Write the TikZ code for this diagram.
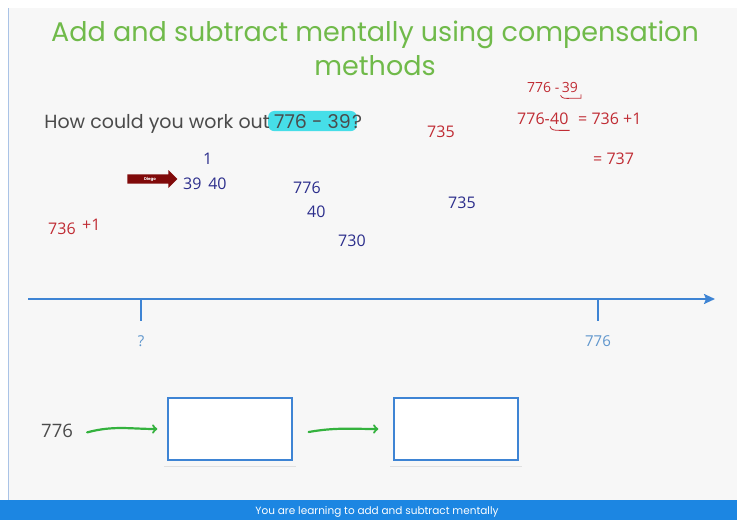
\documentclass[tikz,border=0pt]{standalone}
\usepackage{fontspec}
\setmainfont{Poppins}
\newfontfamily\handfont{Open Sans}
\usetikzlibrary{arrows,arrows.meta,shapes.arrows}

\definecolor{slidebg}{RGB}{247,247,247}
\definecolor{framecol}{RGB}{170,195,230}
\definecolor{titlegreen}{RGB}{112,186,74}
\definecolor{asktext}{RGB}{75,75,75}
\definecolor{marker}{RGB}{70,222,232}
\definecolor{penred}{RGB}{192,44,52}
\definecolor{pennavy}{RGB}{44,46,140}
\definecolor{linesblue}{RGB}{62,132,212}
\definecolor{labelblue}{RGB}{95,150,205}
\definecolor{barblue}{RGB}{28,134,226}
\definecolor{diegored}{RGB}{128,10,10}
\definecolor{arrowgreen}{RGB}{52,178,62}

\begin{document}
\begin{tikzpicture}[x=1pt, y=-1pt,
  heading/.style={text=titlegreen, font=\fontsize{27}{34}\selectfont, align=center, inner sep=0pt},
  ask/.style={text=asktext, font=\fontsize{19}{20}\selectfont, inner sep=0pt, anchor=base west},
  redpen/.style={text=penred, font=\handfont\fontsize{16}{16}\selectfont, inner sep=0pt, anchor=base west},
  navypen/.style={text=pennavy, font=\handfont\fontsize{16}{16}\selectfont, inner sep=0pt, anchor=base west},
  numline/.style={draw=linesblue, line width=2pt},
  ticklabel/.style={text=labelblue, font=\handfont\fontsize{15}{15}\selectfont},
  answerbox/.style={draw=linesblue, line width=1.3pt, fill=white, minimum width=124pt, minimum height=62pt},
  greenarrow/.style={draw=arrowgreen, line width=2.2pt, line cap=round, -to}]
  \useasboundingbox (0,0) rectangle (737,520);
  \fill[white] (0,0) rectangle (737,520);
  \fill[slidebg] (8,8) rectangle (737,500);
  \draw[framecol, thin] (8,8) -- (8,500);
  \fill[barblue] (0,500) rectangle (737,520);
  \node[text=white, font=\fontsize{10.5}{10.5}\selectfont] (goal) at (377,512) {You are learning to add and subtract mentally};

  \node[heading, anchor=base] (title) at (375,75) {Add and subtract mentally using compensation\\methods};

  % question with marker
  \node[ask, fill=marker, rounded corners=6pt, inner xsep=6pt, inner ysep=3pt] (askB) at (268,128) {776 - 39};
  \node[ask, anchor=base east] (askA) at ([xshift=2pt]askB.base west) {How could you work out};
  \node[ask] (askC) at ([xshift=-5pt]askB.base east) {?};

  % red working
  \node[redpen, font=\handfont\fontsize{14}{14}\selectfont] (rA) at (527,92) {776 -};
  \node[redpen, font=\handfont\fontsize{14}{14}\selectfont] (rB) at ([xshift=2pt]rA.base east) {39};
  \draw[penred, thick] ([xshift=-1pt,yshift=-3pt]rB.south west) to[out=-70,in=180] ([yshift=-6pt]rB.south) -- ([xshift=3pt,yshift=-6pt]rB.south east) -- ([xshift=3pt,yshift=-2pt]rB.south east);
  \node[redpen] (rC) at (517,124) {776-};
  \node[redpen] (rD) at (rC.base east) {40};
  \draw[penred, thick] ([yshift=-2pt]rD.south west) to[out=-80,in=180] ([yshift=-6pt]rD.south) -- ([xshift=1pt,yshift=-6pt]rD.south east);
  \node[redpen] (rE) at (578,124) {= 736 +1};
  \node[redpen] (rF) at (593,164) {= 737};
  \node[redpen] (rG) at (427,137) {735};
  \node[redpen] (rH) at (48,234) {736};
  \node[redpen] (rI) at (82,230) {+1};

  % blue working
  \node[navypen] (bA) at (203,164) {1};
  \node[navypen] (bB) at (183,189) {39\, 40};
  \node[navypen] (bC) at (293,193) {776};
  \node[navypen] (bD) at (307,217) {40};
  \node[navypen] (bE) at (338,246) {730};
  \node[navypen] (bF) at (448,208) {735};

  \node[single arrow, fill=diegored, text=white, font=\fontsize{4}{4}\selectfont\bfseries,
        minimum height=50pt, minimum width=18pt, single arrow head extend=4pt, inner sep=2pt] (diego) at (150,179) {Diego};

  % number line
  \coordinate (lineL) at (28,299);
  \coordinate (lineR) at (715,299);
  \draw[numline, -{Stealth[length=11pt, width=10pt, inset=2pt]}] (lineL) -- (lineR);
  \draw[numline] (141,299) -- (141,321) node[ticklabel, below=10pt] (unknown) {?};
  \draw[numline] (598,299) -- (598,321) node[ticklabel, below=10pt] (end) {776};

  % boxes
  \node[text=asktext, font=\handfont\fontsize{18.5}{18}\selectfont, inner sep=0pt, anchor=base west] (start) at (41,437) {776};
  \node[answerbox] (boxA) at (230,429) {};
  \node[answerbox] (boxB) at (456,429) {};
  \draw[black!12, line width=1.5pt] ([xshift=-3pt,yshift=-6pt]boxA.south west) -- ([xshift=3pt,yshift=-6pt]boxA.south east);
  \draw[black!12, line width=1.5pt] ([xshift=-3pt,yshift=-6pt]boxB.south west) -- ([xshift=3pt,yshift=-6pt]boxB.south east);
  \draw[greenarrow] ([xshift=14pt,yshift=-2pt]start.east) to[out=15,in=180] ([xshift=-10pt]boxA.west);
  \draw[greenarrow] ([xshift=16pt,yshift=-3pt]boxA.east) to[out=10,in=180] ([xshift=-15pt]boxB.west);
\end{tikzpicture}
\end{document}
